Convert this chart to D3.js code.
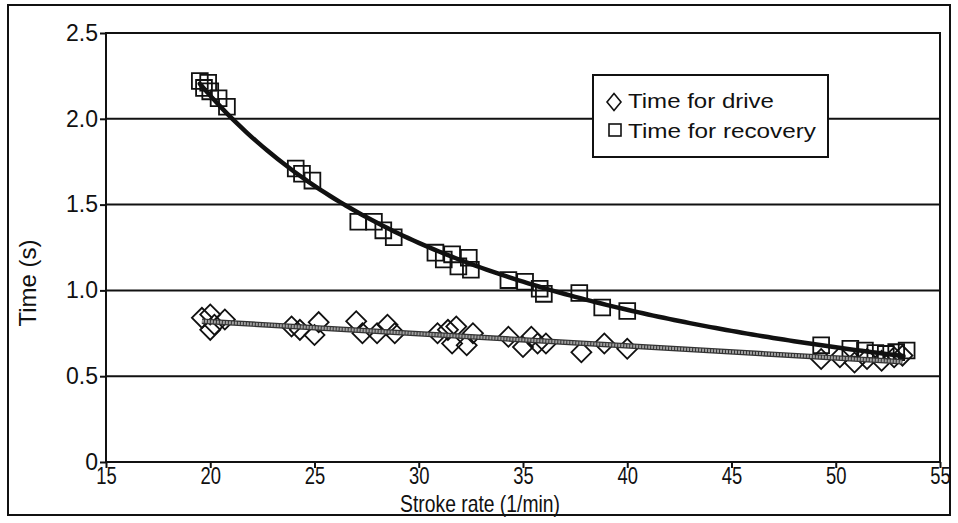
<!DOCTYPE html>
<html>
<head>
<meta charset="utf-8">
<script src="https://cdn.jsdelivr.net/npm/d3@7"></script>
<style>
  body { margin: 0; background: #fff; }
  svg text { fill: #111; }
</style>
</head>
<body>
<svg id="chart" width="958" height="523"></svg>
<script>
// stroke rate (1/min) and times (s)
var recoveryRate = [19.5, 19.9, 19.7, 20.0, 20.4, 20.8, 24.1, 24.4, 24.9, 27.1, 27.85, 28.3, 28.8,
                    30.8, 31.2, 31.6, 31.9, 32.4, 32.5, 34.3, 35.1, 35.8, 36.0, 37.7, 38.8, 40.0,
                    49.3, 50.7, 51.4, 51.9, 52.4, 52.9, 53.4];
var recoveryTime = [2.22, 2.21, 2.18, 2.16, 2.12, 2.07, 1.71, 1.68, 1.64, 1.40, 1.40, 1.35, 1.31,
                    1.22, 1.18, 1.21, 1.14, 1.19, 1.12, 1.06, 1.05, 1.01, 0.98, 0.985, 0.90, 0.88,
                    0.68, 0.66, 0.65, 0.635, 0.63, 0.64, 0.65];

var driveRate = [19.6, 20.0, 20.0, 20.2, 20.7, 23.9, 24.3, 25.0, 25.2, 27.0, 27.3, 28.0, 28.5, 28.85,
                 30.9, 31.4, 31.6, 31.8, 32.3, 32.6, 34.3, 35.0, 35.4, 35.7, 36.1, 37.8, 38.9, 40.0,
                 49.3, 50.2, 50.9, 51.5, 52.2, 52.8, 53.2];
var driveTime = [0.84, 0.86, 0.77, 0.80, 0.83, 0.79, 0.77, 0.74, 0.815, 0.82, 0.75, 0.75, 0.80, 0.75,
                 0.75, 0.77, 0.69, 0.79, 0.68, 0.75, 0.73, 0.67, 0.73, 0.69, 0.69, 0.64, 0.69, 0.66,
                 0.60, 0.61, 0.58, 0.60, 0.59, 0.61, 0.62];

var xTicks = [15, 20, 25, 30, 35, 40, 45, 50, 55];
var yTicks = [0, 0.5, 1.0, 1.5, 2.0, 2.5];
var yTickLabels = ["0", "0.5", "1.0", "1.5", "2.0", "2.5"];
var legendLabels = ["Time for drive", "Time for recovery"];

var svg = d3.select("#chart");
var plotL = 106, plotR = 940, plotT = 33, plotB = 462;

var x = d3.scaleLinear().domain([15, 55]).range([plotL, plotR]);
var y = d3.scaleLinear().domain([0, 2.5]).range([plotB, plotT]);

var sansFont = "'Liberation Sans', Arial, Helvetica, sans-serif";

// outer frame
svg.append("rect")
    .attr("x", 8).attr("y", 5).attr("width", 942).attr("height", 510)
    .attr("fill", "none").attr("stroke", "#111").attr("stroke-width", 2);

// horizontal grid lines
svg.append("g").selectAll("line")
    .data(yTicks.slice(1, 5))
    .enter().append("line")
    .attr("x1", plotL).attr("x2", plotR)
    .attr("y1", function(d) { return y(d); })
    .attr("y2", function(d) { return y(d); })
    .attr("stroke", "#111").attr("stroke-width", 2);

// plot frame
svg.append("rect")
    .attr("x", plotL).attr("y", plotT)
    .attr("width", plotR - plotL).attr("height", plotB - plotT)
    .attr("fill", "none").attr("stroke", "#111").attr("stroke-width", 2);

// axes
var yAxis = d3.axisLeft(y).tickValues(yTicks).tickSize(6)
    .tickFormat(function(d, i) { return yTickLabels[i]; });
var gy = svg.append("g").attr("transform", "translate(" + plotL + ",0)").call(yAxis);
gy.select(".domain").remove();
gy.selectAll("line").attr("stroke", "#111").attr("stroke-width", 2);
gy.selectAll("text").attr("font-family", sansFont).attr("font-size", 23).attr("x", -8);

var xAxis = d3.axisBottom(x).tickValues(xTicks).tickSize(6).tickFormat(d3.format("d"));
var gx = svg.append("g").attr("transform", "translate(0," + plotB + ")").call(xAxis);
gx.select(".domain").remove();
gx.selectAll("line").attr("stroke", "#111").attr("stroke-width", 2);
// the scanned x labels are condensed
gx.selectAll("text").attr("font-family", sansFont).attr("font-size", 23)
    .attr("y", 6).attr("transform", "scale(0.8,1)");

// axis titles
svg.append("text")
    .attr("transform", "translate(36,283) rotate(-90)")
    .attr("text-anchor", "middle")
    .attr("font-family", sansFont).attr("font-size", 24)
    .text("Time (s)");

svg.append("text")
    .attr("transform", "translate(480,512) scale(0.84,1)")
    .attr("text-anchor", "middle")
    .attr("font-family", sansFont).attr("font-size", 23)
    .text("Stroke rate (1/min)");

// markers
var recovery = recoveryRate.map(function(r, i) { return [r, recoveryTime[i]]; });
var drive = driveRate.map(function(r, i) { return [r, driveTime[i]]; });

var square = d3.symbol().type(d3.symbolSquare).size(250);
var diamond = d3.symbol().type(d3.symbolSquare).size(200);

svg.append("g").selectAll("path")
    .data(drive)
    .enter().append("path")
    .attr("d", diamond)
    .attr("transform", function(d) { return "translate(" + x(d[0]) + "," + y(d[1]) + ") rotate(45)"; })
    .attr("fill", "none").attr("stroke", "#111").attr("stroke-width", 1.8);

svg.append("g").selectAll("path")
    .data(recovery)
    .enter().append("path")
    .attr("d", square)
    .attr("transform", function(d) { return "translate(" + x(d[0]) + "," + y(d[1]) + ")"; })
    .attr("fill", "none").attr("stroke", "#111").attr("stroke-width", 1.8);

// least-squares trend lines
var lr = d3.mean(drive, function(d) { return d[0]; });
var lt = d3.mean(drive, function(d) { return d[1]; });
var slope = d3.sum(drive, function(d) { return (d[0] - lr) * (d[1] - lt); }) /
            d3.sum(drive, function(d) { return (d[0] - lr) * (d[0] - lr); });
var icpt = lt - slope * lr;
var driveExt = d3.extent(driveRate);

var line = d3.line().x(function(d) { return x(d[0]); }).y(function(d) { return y(d[1]); });

var driveFit = driveExt.map(function(r) { return [r, icpt + slope * r]; });
svg.append("path").attr("d", line(driveFit))
    .attr("fill", "none").attr("stroke", "#333").attr("stroke-width", 5.5);
svg.append("path").attr("d", line(driveFit))
    .attr("fill", "none").attr("stroke", "#a0a0a0").attr("stroke-width", 3)
    .attr("stroke-dasharray", "2,1");

// power fit for recovery: ln t = ln a + b ln r
var lx = recovery.map(function(d) { return Math.log(d[0]); });
var ly = recovery.map(function(d) { return Math.log(d[1]); });
var mx = d3.mean(lx), my = d3.mean(ly);
var b = d3.sum(lx, function(v, i) { return (v - mx) * (ly[i] - my); }) /
        d3.sum(lx, function(v) { return (v - mx) * (v - mx); });
var a = Math.exp(my - b * mx);
var recExt = d3.extent(recoveryRate);
var recFit = d3.range(recExt[0], recExt[1] + 0.01, 0.25).map(function(r) { return [r, a * Math.pow(r, b)]; });
svg.append("path").attr("d", line(recFit))
    .attr("fill", "none").attr("stroke", "#111").attr("stroke-width", 4.5)
    .attr("stroke-linecap", "round");

// legend
var lg = svg.append("g").attr("transform", "translate(593,75)");
lg.append("rect").attr("width", 235).attr("height", 82)
    .attr("fill", "#fff").attr("stroke", "#111").attr("stroke-width", 2);
lg.append("path").attr("d", "M0,-8.5L7,0L0,8.5L-7,0Z")
    .attr("transform", "translate(21,27)")
    .attr("fill", "none").attr("stroke", "#111").attr("stroke-width", 1.6);
lg.append("rect").attr("x", 16).attr("y", 49).attr("width", 12).attr("height", 12)
    .attr("fill", "none").attr("stroke", "#111").attr("stroke-width", 1.6);
lg.selectAll("text.lab")
    .data(legendLabels)
    .enter().append("text")
    .attr("class", "lab")
    .attr("x", 35)
    .attr("y", function(d, i) { return 33 + i * 30; })
    .attr("font-family", sansFont).attr("font-size", 21)
    .attr("textLength", function(d, i) { return i === 0 ? 146 : 188; })
    .attr("lengthAdjust", "spacingAndGlyphs")
    .text(function(d) { return d; });
</script>
</body>
</html>
